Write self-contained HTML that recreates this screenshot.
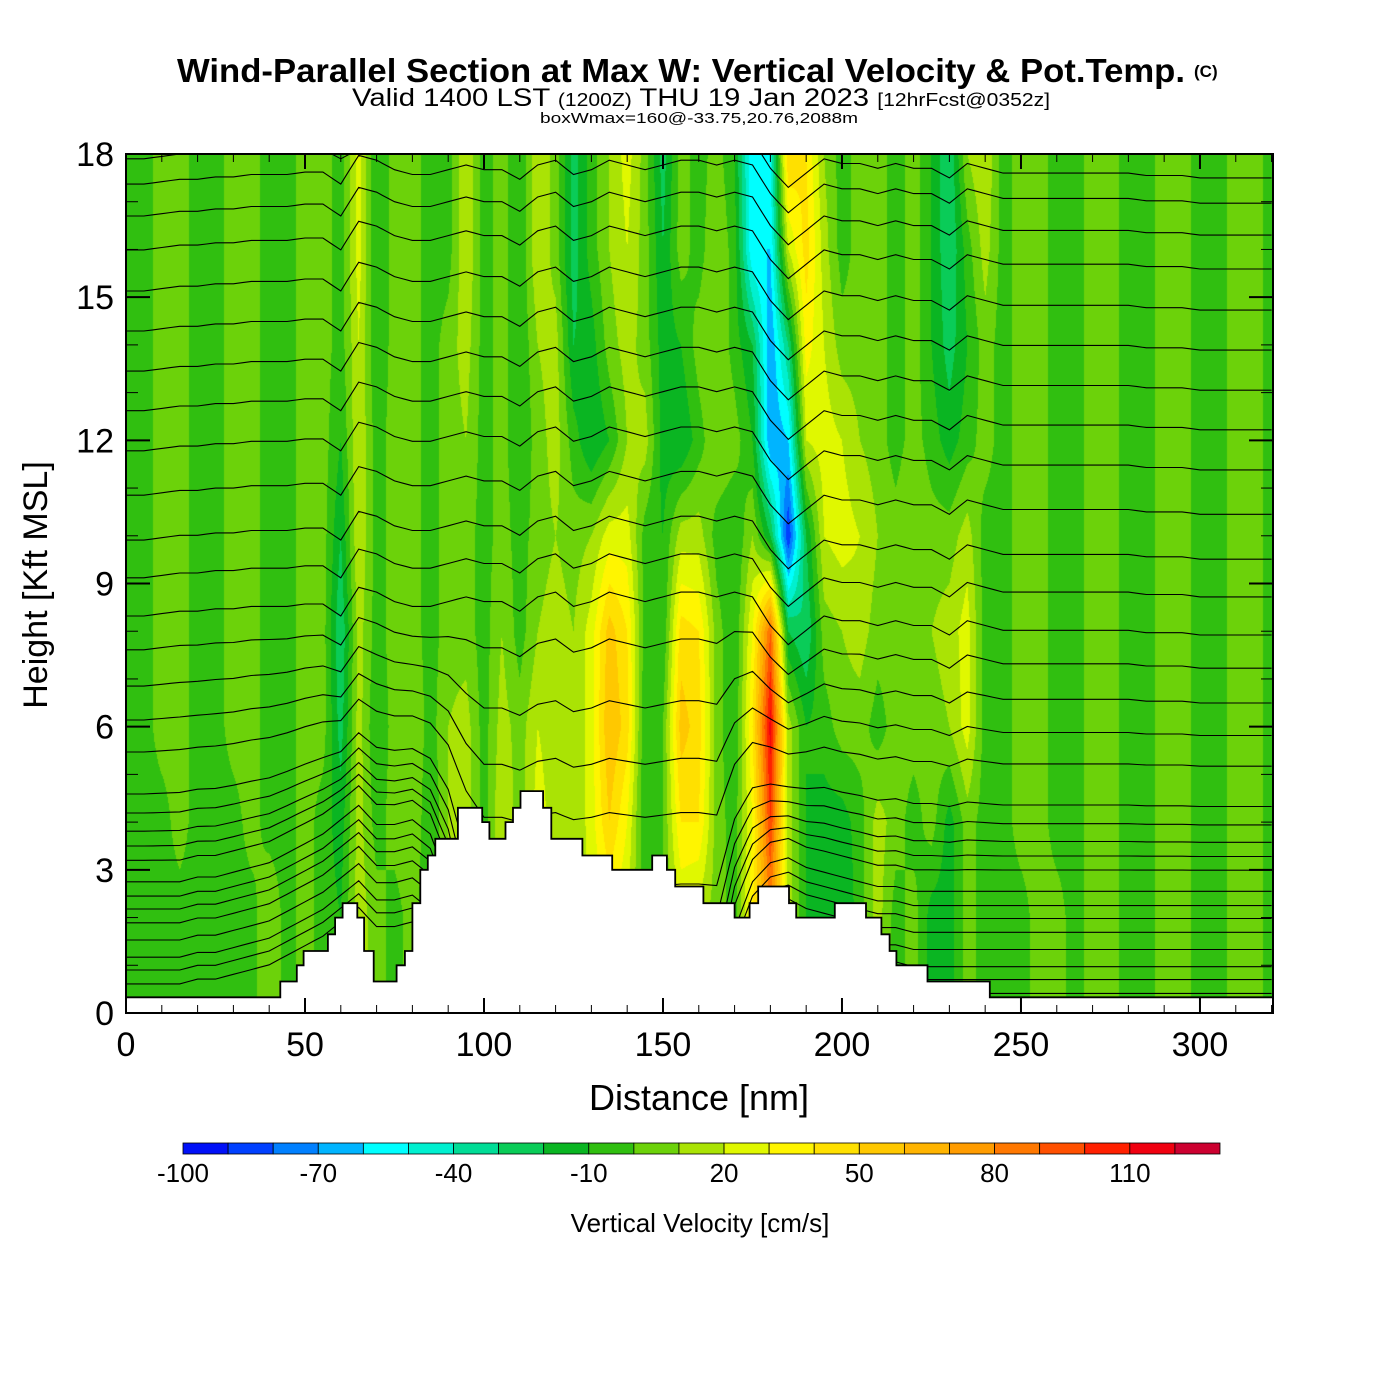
<!DOCTYPE html>
<html><head><meta charset="utf-8"><style>
html,body{margin:0;padding:0;background:#fff;}
#wrap{position:relative;width:1400px;height:1400px;overflow:hidden;background:#fff;}
#field{position:absolute;left:126px;top:154px;}
svg{position:absolute;left:0;top:0;}
text{font-family:"Liberation Sans",sans-serif;}
</style></head><body>
<div id="wrap">
<canvas id="field" width="1147" height="859"></canvas>
<svg id="svg" width="1400" height="1400">
<g id="isen" fill="none" stroke="#000" stroke-width="1.1"></g>
<path id="terrain" fill="#fff" stroke="#000" stroke-width="1.8"/>
<g id="ticks" stroke="#000"></g>
<rect x="126" y="154" width="1147" height="859" fill="none" stroke="#000" stroke-width="2"/>
<text x="177" y="82" font-size="33" font-weight="bold" textLength="1008" lengthAdjust="spacingAndGlyphs">Wind-Parallel Section at Max W: Vertical Velocity &amp; Pot.Temp.</text>
<text x="1194" y="77" font-size="17" font-weight="bold">(C)</text>
<text x="352" y="106" font-size="25" textLength="698" lengthAdjust="spacingAndGlyphs">Valid 1400 LST <tspan font-size="18">(1200Z)</tspan> THU 19 Jan 2023 <tspan font-size="18">[12hrFcst@0352z]</tspan></text>
<text x="540" y="123" font-size="15" textLength="318" lengthAdjust="spacingAndGlyphs">boxWmax=160@-33.75,20.76,2088m</text>
<g id="ylabels" font-size="34" text-anchor="end"></g>
<g id="xlabels" font-size="34" text-anchor="middle"></g>
<text x="699" y="1110" font-size="36" text-anchor="middle">Distance [nm]</text>
<text transform="translate(47,585) rotate(-90)" font-size="34" text-anchor="middle">Height [Kft MSL]</text>
<g id="cbar"></g>
<g id="cblabels" font-size="26" text-anchor="middle"></g>
<text x="700" y="1232" font-size="26" text-anchor="middle">Vertical Velocity [cm/s]</text>
</svg>
</div>
<script>
// ---- data ----
const colGrid = Array.from({length:65},(_, i)=>i*5); // distance (nm) of grid columns
const rowHeights = [0,2,4,6,8,10,12,14,16,18];      // kft
const w0 =  [-5,-5,-5,-5,-5, -5,-5,-5,10,-5, 5,-5,-10,15,5, -5,5,-10,10,10, -5,10,10,10,10, 15,20,20,20,-5, 0,10,10,5,-5, 30,50,15,-10,-15, -20,-5,15,-5,5, -15,-15,5,-5,-5, -5,5,5,-5,5, 5,-5,-5,5,5, -5,-5,5,5,-5];
const w2 =  [-5,-5,-5,-5,-5, -5,-5,-5,10,-5, 5,-5,-10,15,5, -5,5,-10,10,10, -5,10,10,10,10, 15,20,30,20,-5, 0,20,15,5,-5, 40,80,15,-10,-15, -20,-5,15,-5,5, -15,-15,5,-5,-5, -5,5,5,-5,5, 5,-5,-5,5,5, -5,-5,5,5,-5];
const w4 =  [-5,-5,-5,5,-5, -5,-5,5,-5,-5, 5,-5,-15,15,-5, 5,10,-10,10,15, -5,20,5,25,15, 10,25,50,30,-10, 0,40,40,5,-5, 30,100,15,-10,-15, -15,-5,15,5,-5, 5,-15,5,-5,-5, 5,5,-5,-5,5, 5,-5,-5,5,5, -5,-5,5,5,-5];
const w6 =  [-5,-5,5,5,-5, -5,5,5,-5,-5, 5,5,-25,15,-10, 5,10,-5,10,15, -5,15,5,20,15, 10,25,60,45,-10, 0,55,45,5,-10, 40,115,15,-10,-5, 5,5,-5,5,5, 5,10,25,-5,-5, 5,5,-5,-5,5, 5,-5,-5,5,5, -5,-5,5,5,-5];
const w8 =  [-5,-5,5,5,-5, -5,5,5,-5,-5, 5,5,-30,15,-5, 5,5,-5,5,5, -5,10,-5,10,15, 10,25,55,40,-5, -10,45,40,5,-10, 30,90,-20,-30,5, 10,15,5,5,5, 10,15,25,-5,-5, 5,5,-5,-5,5, 5,-5,-5,5,5, -5,-5,5,5,-5];
const w10 = [-5,-5,5,5,-5, -5,5,5,-5,-5, 5,5,-20,20,-5, 5,5,-5,5,5, -5,5,-5,5,10, 5,10,25,25,-5, -10,15,15,-5,-10, 10,-20,-90,-20,20, 25,20,10,5,10, 5,5,15,-5,-5, 5,5,-5,-5,5, 5,-5,-5,5,5, -5,-5,5,5,-5];
const w12 = [-5,-5,5,5,-5, -5,5,5,-5,-5, 5,5,-10,20,-5, 5,5,-5,5,10, -5,5,-10,5,15, -5,-20,-10,10,15, -15,-20,-5,10,5, -10,-70,-60,20,25, 20,10,5,-5,5, -5,-15,-5,5,-5, 5,5,-5,-5,5, 5,-5,-5,5,5, -5,-5,5,5,-5];
const w14 = [-5,-5,5,5,-5, -5,5,5,-5,-5, 5,5,-5,20,-10, 5,5,-5,5,15, -5,5,-10,10,15, -20,-15,5,15,5, -15,-10,5,10,-5, -20,-70,-30,35,20, 5,5,5,-5,5, -10,-25,-10,5,-5, 5,5,-5,-5,5, 5,-5,-5,5,5, -5,-5,5,5,-5];
const w16 = [-5,-5,5,5,-5, -5,5,5,-5,-5, 5,5,-5,25,-10, 5,5,-5,-5,20, -5,5,-10,20,5, -25,-5,10,20,5, -20,5,-5,10,-5, -60,-60,20,45,15, -5,5,5,-5,5, -10,-30,-5,15,-5, 5,5,-5,-5,5, 5,-5,-5,5,5, -5,-5,5,5,-5];
const w18 = [-5,-5,5,5,-5, -5,5,5,-5,-5, 5,5,-5,25,-10, 5,5,-5,-5,20, -5,5,-10,20,5, -25,-5,10,25,5, -25,5,-5,5,-10, -60,-50,50,40,10, -5,5,5,-5,5, -10,-30,10,20,-5, 5,5,-5,-5,5, 5,-5,-5,5,5, -5,-5,5,5,-5];
const wRows = [w0,w2,w4,w6,w8,w10,w12,w14,w16,w18];
// terrain steps: [end distance nm, height kft]
const terrainX = [43.1,47.7,49.6,56.4,58.4,60.5,64.6,66.5,69.2,75.6,77.9,80,82.2,84.3,86.4,92.7,99.5,101.5,106,108.1,110.2,116.5,118.8,127.5,135.8,147,151.1,153.4,161.3,170,174.2,176.6,185.2,187.2,198,206.7,211,213.3,215.2,223.9,241.3,322];
const terrainH = [0.33,0.66,1.0,1.3,1.65,2.0,2.3,2.0,1.3,0.66,1.0,1.3,2.3,3.0,3.3,3.65,4.3,4.0,3.65,4.0,4.3,4.65,4.3,3.65,3.3,3.0,3.3,3.0,2.65,2.3,2.0,2.3,2.65,2.3,2.0,2.3,2.0,1.65,1.3,1.0,0.66,0.33];
// isentrope base heights (kft at left edge)
const isenBase = [17.9,17.37,16.7,15.99,15.13,14.29,13.45,12.62,11.78,10.85,9.91,9.12,8.32,7.61,6.85,6.14,5.47,4.59,4.19,3.81,3.5,3.2,2.75,2.45,2.18,1.89,1.53,1.17,0.9,0.61];
const dispUp = [0,0,.05,.1,.1,.15,.15,.2,.2,.2,.25,.25,0,.6,.5,.3,.2,.2,.3,.4,.3,.3,.1,.4,.5,.2,.3,.5,.4,.3,.4,.5,.5,.4,.5,.4,-.2,-.6,-.3,0,-.1,-.1,-.2,-.1,-.2,-.2,-.4,-.1,-.2,-.3,-.3,-.3,-.3,-.3,-.3,-.3,-.3,-.35,-.35,-.35,-.4,-.4,-.4,-.4,-.4];
const dispLow = [0,0,0,0,.1,.1,.2,.3,.4,.6,.8,1,1.3,1.6,1.2,1.2,1.3,1.0,0,-2,-3,-3,-3,-3,-3,-3,-3,-3,-3,-3,-3,-3,-3,-3,-1,0,.4,.5,.3,.2,.1,0,-.1,-.1,-.2,-.2,-.2,-.2,-.2,-.2,-.2,-.2,-.2,-.2,-.2,-.2,-.2,-.2,-.2,-.2,-.2,-.2,-.2,-.2,-.2];
const xTicks = [0,50,100,150,200,250,300];
const yTicks = [0,3,6,9,12,15,18];
const cbLevels = [-100,-90,-80,-70,-60,-50,-40,-30,-20,-10,0,10,20,30,40,50,60,70,80,90,100,110,120,130];
const cbLabels = [-100,-70,-40,-10,20,50,80,110];
const cbColors = ["#0010f8","#0040ff","#0080ff","#00b4ff","#00ffff","#00f0d0","#00dc96","#0acc58","#0ab522","#30bf10","#6cd20a","#aae305","#e0f800","#fff500","#ffe000","#ffc800","#ffb400","#ff9c00","#ff7800","#ff5000","#ff2000","#f00010","#cc0030"];

// ---- axes ----
const X0=126, X1=1273, Y0=1013, Y1=154, XMAX=320.4, YMAX=18;
const xs = d => X0 + d/XMAX*(X1-X0);
const ys = h => Y0 - h/YMAX*(Y0-Y1);
const NS='http://www.w3.org/2000/svg';
function mk(tag, parent, attrs){const e=document.createElementNS(NS,tag);for(const k in attrs)e.setAttribute(k,attrs[k]);parent.appendChild(e);return e;}

function interpArr(arr, d){const f=d/5;let i=Math.floor(f);if(i<0)i=0;if(i>=arr.length-1)return arr[arr.length-1];const t=f-i;return arr[i]*(1-t)+arr[i+1]*t;}
function fieldVal(d,h){
  let r=Math.floor(h/2); if(r>8) r=8; if(r<0) r=0; const t=(h-rowHeights[r])/2;
  return interpArr(wRows[r],d)*(1-t)+interpArr(wRows[r+1],d)*t;
}
function hex(c){return [parseInt(c.slice(1,3),16),parseInt(c.slice(3,5),16),parseInt(c.slice(5,7),16)];}
const rgb = cbColors.map(hex);
// field canvas
(function(){
  const cv=document.getElementById('field'),ctx=cv.getContext('2d');
  const W=cv.width,H=cv.height,img=ctx.createImageData(W,H);
  for(let py=0;py<H;py++){
    const h=(Y0-(Y1+py+0.5))/(Y0-Y1)*YMAX;
    for(let px=0;px<W;px++){
      const d=(px+0.5)/(X1-X0)*XMAX;
      const v=fieldVal(d,h);
      let b=Math.floor((v+100)/10); if(b<0)b=0; if(b>22)b=22;
      const c=rgb[b],o=(py*W+px)*4;
      img.data[o]=c[0];img.data[o+1]=c[1];img.data[o+2]=c[2];img.data[o+3]=255;
    }
  }
  ctx.putImageData(img,0,0);
})();

// isentropes
(function(){
  const g=document.getElementById('isen');
  isenBase.forEach((b,k)=>{
    let pts=[];
    for(let d=0; d<=XMAX; d+=2.5){
      const w=Math.max(0,Math.min(1,(b-3)/5));
      const dd=interpArr(dispLow,d)*(1-w)+interpArr(dispUp,d)*w;
      let h=b+dd; if(h>YMAX) h=YMAX; if(h<0) h=0;
      pts.push(xs(d).toFixed(1)+','+ys(h).toFixed(1));
    }
    const p=mk('polyline',g,{points:pts.join(' ')});
    
    
  });
})();

// terrain
(function(){
  let d='M'+xs(0)+','+ys(0)+' L'+xs(0)+','+ys(terrainH[0]);
  let prev=0;
  terrainX.forEach((x,i)=>{
    const y=ys(terrainH[i]);
    d+=' L'+xs(prev).toFixed(1)+','+y.toFixed(1)+' L'+xs(Math.min(x,XMAX)).toFixed(1)+','+y.toFixed(1);
    prev=x;
  });
  d+=' L'+xs(XMAX)+','+ys(0)+' Z';
  document.getElementById('terrain').setAttribute('d',d);
})();

// ticks & labels
(function(){
  const g=document.getElementById('ticks');
  for(let d=0; d<=320; d+=10){
    const major=d%50===0, L=major?15:8;
    mk('line',g,{x1:xs(d),x2:xs(d),y1:Y0,y2:Y0-L,'stroke-width':major?2:1});
    mk('line',g,{x1:xs(d),x2:xs(d),y1:Y1,y2:Y1+L,'stroke-width':major?2:1});
  }
  for(let h=0; h<=18; h+=1){
    const major=h%3===0, L=major?24:12;
    mk('line',g,{x1:X0,x2:X0+L,y1:ys(h),y2:ys(h),'stroke-width':major?2:1});
    mk('line',g,{x1:X1,x2:X1-L,y1:ys(h),y2:ys(h),'stroke-width':major?2:1});
  }
  const gy=document.getElementById('ylabels');
  yTicks.forEach(v=>{const t=mk('text',gy,{x:114,y:ys(v)+12});t.textContent=v;
    
    });
  const gx=document.getElementById('xlabels');
  xTicks.forEach(v=>{const t=mk('text',gx,{x:xs(v),y:1056});t.textContent=v;
    
    });
  // colorbar
  const cb=document.getElementById('cbar'), cx0=183, cx1=1220, n=cbColors.length, bw=(cx1-cx0)/n;
  const cbx=v=>cx0+(v-cbLevels[0])/(cbLevels[n]-cbLevels[0])*(cx1-cx0);
  cbColors.forEach((c,i)=>{const r=mk('rect',cb,{x:cbx(cbLevels[i]),y:1143,width:bw,height:11,fill:c,stroke:'#000','stroke-width':0.8});
    
    });
  const gl=document.getElementById('cblabels');
  cbLabels.forEach(v=>{const t=mk('text',gl,{x:cbx(v),y:1182});t.textContent=v;
    
    });
})();
</script>
</body></html>
